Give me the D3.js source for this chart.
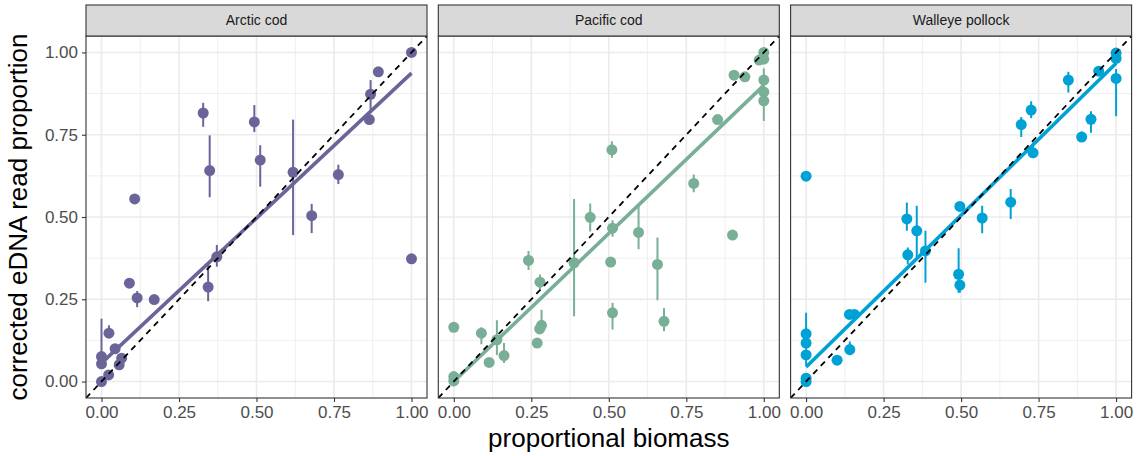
<!DOCTYPE html>
<html>
<head>
<meta charset="utf-8">
<script src="https://cdn.jsdelivr.net/npm/d3@7"></script>
<style>
  body { margin: 0; background: #fff; }
  svg { font-family: "Liberation Sans", Arial, sans-serif; }
</style>
</head>
<body>
<svg id="chart"></svg>
<script>
const w = 1140;
const h = 456;

const species = ['Arctic cod', 'Pacific cod', 'Walleye pollock'];
const colores = ['#6A6599', '#79AF97', '#00A1D5'];

// [biomass, read proportion, lower, upper]  (null = no visible interval)
const arctic = [
  [1.00, 1.00, null, null], [0.893, 0.941, null, null], [0.868, 0.873, 0.824, 0.916],
  [0.864, 0.796, null, null], [0.328, 0.816, 0.774, 0.847], [0.349, 0.641, 0.560, 0.748],
  [0.493, 0.789, 0.758, 0.840], [0.512, 0.673, 0.592, 0.718], [0.618, 0.636, 0.445, 0.796],
  [0.764, 0.629, 0.600, 0.659], [0.107, 0.555, null, null], [0.678, 0.504, 0.451, 0.540],
  [1.00, 0.373, null, null], [0.372, 0.379, 0.349, 0.415], [0.344, 0.287, 0.244, 0.356],
  [0.090, 0.299, null, null], [0.115, 0.254, 0.226, 0.275], [0.170, 0.249, 0.240, 0.262],
  [0.024, 0.147, 0.135, 0.171], [0.0, 0.076, 0.040, 0.191], [0.0, 0.054, null, null],
  [0.044, 0.100, 0.090, 0.112], [0.065, 0.071, 0.060, 0.082], [0.057, 0.051, null, null],
  [0.023, 0.020, null, null], [0.0, 0.0, null, null]
];
const pacific = [
  [1.0, 1.0, null, null], [0.985, 0.977, null, null], [1.0, 0.98, null, null],
  [0.904, 0.931, null, null], [0.939, 0.926, null, null], [1.0, 0.916, 0.88, 0.951],
  [1.0, 0.88, null, null], [1.0, 0.853, 0.792, 0.88], [0.851, 0.796, null, null],
  [0.51, 0.704, 0.68, 0.73], [0.774, 0.602, 0.575, 0.629], [0.44, 0.499, 0.456, 0.541],
  [0.388, 0.361, 0.198, 0.555], [0.512, 0.466, 0.44, 0.49], [0.596, 0.453, 0.402, 0.534],
  [0.899, 0.445, null, null], [0.506, 0.363, null, null], [0.657, 0.356, 0.247, 0.438],
  [0.512, 0.209, 0.158, 0.239], [0.678, 0.183, 0.153, 0.223], [0.241, 0.368, 0.339, 0.397],
  [0.278, 0.302, 0.28, 0.325], [0.283, 0.171, 0.15, 0.218], [0.277, 0.16, null, null],
  [0.269, 0.117, null, null], [0.0, 0.165, null, null], [0.089, 0.147, 0.113, 0.165],
  [0.139, 0.127, 0.081, 0.186], [0.114, 0.058, null, null], [0.162, 0.079, 0.056, 0.117],
  [0.0, 0.015, null, null], [0.0, 0.002, null, null]
];
const walleye = [
  [1.0, 0.998, null, null], [1.0, 0.982, null, null], [1.0, 0.921, 0.806, 0.95],
  [0.944, 0.943, null, null], [0.846, 0.916, 0.878, 0.941], [0.919, 0.797, 0.756, 0.821],
  [0.889, 0.743, 0.73, 0.76], [0.726, 0.825, 0.80, 0.852], [0.694, 0.781, 0.743, 0.804],
  [0.732, 0.695, 0.68, 0.72], [0.0, 0.624, null, null], [0.660, 0.545, 0.494, 0.585],
  [0.496, 0.532, 0.52, 0.545], [0.568, 0.497, 0.451, 0.534], [0.325, 0.494, 0.458, 0.544],
  [0.357, 0.458, 0.377, 0.534], [0.385, 0.397, 0.30, 0.458], [0.328, 0.385, 0.356, 0.407],
  [0.492, 0.326, 0.27, 0.405], [0.496, 0.293, 0.27, 0.31], [0.14, 0.204, null, null],
  [0.156, 0.204, null, null], [0.141, 0.097, 0.08, 0.122], [0.10, 0.065, null, null],
  [0.0, 0.145, 0.05, 0.209], [0.0, 0.117, null, null], [0.0, 0.081, null, null],
  [0.0, 0.01, null, null], [0.0, 0.0, null, null]
];
const datos = [arctic, pacific, walleye];

// fitted lm line: [intercept, slope]
const ajustes = [[0.056, 0.881], [0.0, 0.90], [0.044, 0.923]];

const ticks = [0, 0.25, 0.5, 0.75, 1];
const minorTicks = [0.125, 0.375, 0.625, 0.875];

const panelW = 341;
const gap = 11.3;
const panelLeft = 86;
const stripTop = 5;
const panelTop = 36;
const panelBottom = 398;

const svg = d3.select('#chart').attr('width', w).attr('height', h);

const escalaY = d3.scaleLinear().domain([-0.05, 1.05]).range([panelBottom, panelTop]);
const fmt = d3.format('.2f');

species.forEach((sp, k) => {
  const x0 = panelLeft + k * (panelW + gap);
  const escalaX = d3.scaleLinear().domain([-0.05, 1.05]).range([x0, x0 + panelW]);
  const g = svg.append('g');
  const col = colores[k];

  // grid
  g.selectAll('.minx').data(minorTicks).enter().append('line')
    .attr('x1', d => escalaX(d)).attr('x2', d => escalaX(d))
    .attr('y1', panelTop).attr('y2', panelBottom)
    .style('stroke', '#EBEBEB').style('stroke-width', 0.8);
  g.selectAll('.miny').data(minorTicks).enter().append('line')
    .attr('y1', d => escalaY(d)).attr('y2', d => escalaY(d))
    .attr('x1', x0).attr('x2', x0 + panelW)
    .style('stroke', '#EBEBEB').style('stroke-width', 0.8);
  g.selectAll('.majx').data(ticks).enter().append('line')
    .attr('x1', d => escalaX(d)).attr('x2', d => escalaX(d))
    .attr('y1', panelTop).attr('y2', panelBottom)
    .style('stroke', '#EBEBEB').style('stroke-width', 1.6);
  g.selectAll('.majy').data(ticks).enter().append('line')
    .attr('y1', d => escalaY(d)).attr('y2', d => escalaY(d))
    .attr('x1', x0).attr('x2', x0 + panelW)
    .style('stroke', '#EBEBEB').style('stroke-width', 1.6);

  const clip = 'clip' + k;
  svg.append('clipPath').attr('id', clip).append('rect')
    .attr('x', x0).attr('y', panelTop).attr('width', panelW).attr('height', panelBottom - panelTop);
  const pg = g.append('g').attr('clip-path', 'url(#' + clip + ')');

  // error bars
  pg.selectAll('.err').data(datos[k].filter(d => d[2] !== null)).enter().append('line')
    .attr('x1', d => escalaX(d[0])).attr('x2', d => escalaX(d[0]))
    .attr('y1', d => escalaY(d[2])).attr('y2', d => escalaY(d[3]))
    .style('stroke', col).style('stroke-width', 2);

  // points
  pg.selectAll('.pt').data(datos[k]).enter().append('circle')
    .attr('cx', d => escalaX(d[0])).attr('cy', d => escalaY(d[1]))
    .attr('r', 5.5).style('fill', col);

  // lm line
  const a = ajustes[k];
  const xs = d3.extent(datos[k], d => d[0]);
  const linea = d3.line().x(d => escalaX(d)).y(d => escalaY(a[0] + a[1] * d));
  pg.append('path').attr('d', linea(xs))
    .style('stroke', col).style('stroke-width', 3.6).style('fill', 'none');

  // 1:1 line
  const diag = d3.line().x(d => escalaX(d)).y(d => escalaY(d));
  pg.append('path').attr('d', diag([-0.05, 1.05]))
    .style('stroke', '#000').style('stroke-width', 1.8)
    .style('stroke-dasharray', '6,5').style('fill', 'none');

  // border
  g.append('rect').attr('x', x0).attr('y', panelTop).attr('width', panelW).attr('height', panelBottom - panelTop)
    .style('fill', 'none').style('stroke', '#333333').style('stroke-width', 1.1);

  // strip
  g.append('rect').attr('x', x0).attr('y', stripTop).attr('width', panelW).attr('height', panelTop - stripTop)
    .style('fill', '#D9D9D9').style('stroke', '#333333').style('stroke-width', 1.1);
  g.append('text').attr('x', x0 + panelW / 2).attr('y', (stripTop + panelTop) / 2)
    .attr('dy', '0.35em').attr('text-anchor', 'middle')
    .style('font-size', '14px').style('fill', '#1A1A1A').text(sp);

  // x axis
  const ejeX = d3.axisBottom(escalaX).tickValues(ticks).tickFormat(fmt).tickSize(4).tickPadding(4);
  const ax = g.append('g').attr('transform', 'translate(0,' + panelBottom + ')').call(ejeX);
  ax.select('.domain').remove();
  ax.selectAll('line').style('stroke', '#333333').style('stroke-width', 1.1);
  ax.selectAll('text').style('font-size', '17px').style('fill', '#4D4D4D')
    .style('font-family', '"Liberation Sans", Arial, sans-serif');

  if (k === 0) {
    const ejeY = d3.axisLeft(escalaY).tickValues(ticks).tickFormat(fmt).tickSize(4).tickPadding(4);
    const ay = g.append('g').attr('transform', 'translate(' + x0 + ',0)').call(ejeY);
    ay.select('.domain').remove();
    ay.selectAll('line').style('stroke', '#333333').style('stroke-width', 1.1);
    ay.selectAll('text').style('font-size', '17px').style('fill', '#4D4D4D')
      .style('font-family', '"Liberation Sans", Arial, sans-serif');
  }
});

svg.append('text')
  .attr('x', panelLeft + (3 * panelW + 2 * gap) / 2).attr('y', 447)
  .attr('text-anchor', 'middle').style('font-size', '26px').style('fill', '#000')
  .text('proportional biomass');

svg.append('text')
  .attr('transform', 'translate(27,' + (panelTop + panelBottom) / 2 + ') rotate(-90)')
  .attr('text-anchor', 'middle').style('font-size', '26px').style('fill', '#000')
  .text('corrected eDNA read proportion');
</script>
</body>
</html>
